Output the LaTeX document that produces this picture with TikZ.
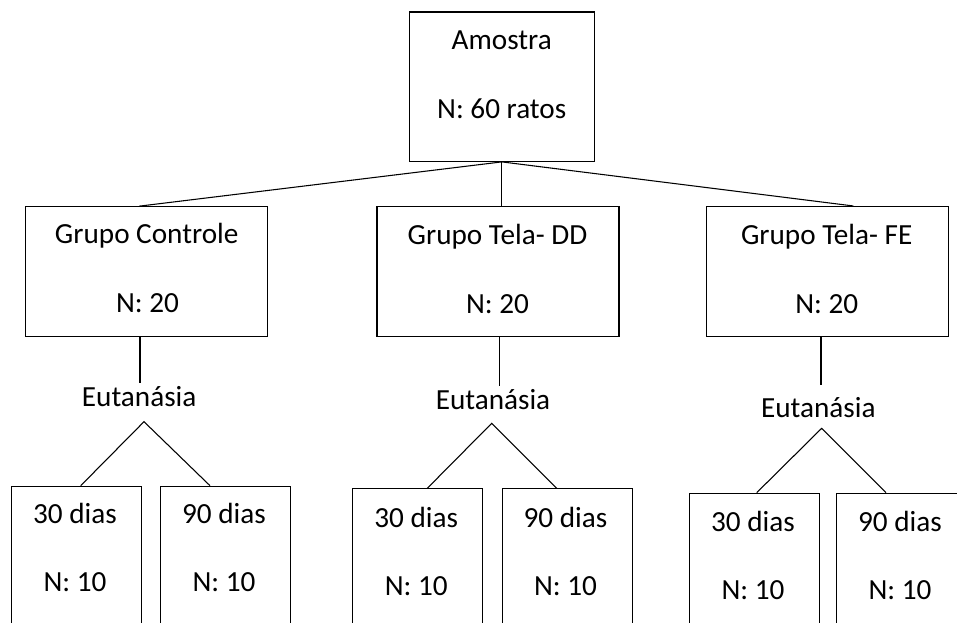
\documentclass[tikz,border=0pt]{standalone}
\usepackage{fontspec}
\setmainfont{Carlito}
\begin{document}
\begin{tikzpicture}[x=0.75pt,y=-0.75pt,
  box/.style={draw,line width=0.8pt,minimum width=#1,minimum height=130*0.75pt,inner sep=0pt},
  box/.default=181.5pt,
  leaf/.style={draw,line width=0.8pt,minimum width=97.5pt,minimum height=102.75pt,inner sep=0pt},
  txt/.style={anchor=base,inner sep=0pt,font=\fontsize{21.9}{26}\selectfont},
  conn/.style={line width=0.8pt}]
\useasboundingbox (0,0) rectangle (957,623);
\clip (0,0) rectangle (957,623);
% top
\node[draw,line width=0.8pt,minimum width=138.75pt,minimum height=112pt,inner sep=0pt] (am) at (501.8,86.7) {};
\node[txt] (amt1) at (501.7,50) {Amostra};
\node[txt] (amt2) at (501.7,118.3) {N: 60 ratos};
% groups
\node[box] (gc) at (146.3,271.7) {};
\node[box] (gd) at (498,271.7) {};
\node[box] (gf) at (827.2,271.5) {};
\node[txt] (gct1) at (146.7,244) {Grupo Controle};
\node[txt] (gct2) at (147.5,312.3) {N: 20};
\node[txt] (gdt1) at (497.5,245) {Grupo Tela- DD};
\node[txt] (gdt2) at (497.5,313.3) {N: 20};
\node[txt] (gft1) at (826.7,245) {Grupo Tela- FE};
\node[txt] (gft2) at (826.7,313.3) {N: 20};
% eutanasia
\node[txt] (e1) at (139.2,406.7) {Eutanásia};
\node[txt] (e2) at (493,410) {Eutanásia};
\node[txt] (e3) at (818.3,417.3) {Eutanásia};
\coordinate (a1) at (144,421.7);
\coordinate (a2) at (491.7,423.3);
\coordinate (a3) at (821.7,428.3);
\coordinate (v1) at (140,383);
\coordinate (v2) at (499.3,386);
\coordinate (v3) at (821,385);
% leaves
\node[leaf,anchor=north west] (b11) at (10.7,485.7) {};
\node[leaf,anchor=north west] (b12) at (160,485.7) {};
\node[leaf,anchor=north west] (b21) at (352,488.3) {};
\node[leaf,anchor=north west] (b22) at (501.7,488.3) {};
\node[leaf,anchor=north west] (b31) at (689,492.7) {};
\node[leaf,anchor=north west] (b32) at (835.7,492.7) {};
\node[txt] (b11a) at (75,523.3) {30 dias};
\node[txt] (b11b) at (75,591.7) {N: 10};
\node[txt] (b12a) at (224,523.3) {90 dias};
\node[txt] (b12b) at (224,591.7) {N: 10};
\node[txt] (b21a) at (416.2,527.3) {30 dias};
\node[txt] (b21b) at (416.2,595) {N: 10};
\node[txt] (b22a) at (565.5,527.3) {90 dias};
\node[txt] (b22b) at (565.5,595) {N: 10};
\node[txt] (b31a) at (753,531.7) {30 dias};
\node[txt] (b31b) at (753,599.3) {N: 10};
\node[txt] (b32a) at (900,531.7) {90 dias};
\node[txt] (b32b) at (900,599.3) {N: 10};
% connectors
\draw[conn] (gc.north -| e1) -- (am.south) -- (gf.north -| 853.3,0);
\draw[conn] (am.south) -- (gd.north -| am.south);
\draw[conn] (gc.south -| v1) -- (v1);
\draw[conn] (gd.south -| v2) -- (v2);
\draw[conn] (gf.south -| v3) -- (v3);
\draw[conn] (b11.north -| 80.7,0) -- (a1) -- (b12.north -| 210,0);
\draw[conn] (b21.north -| 427.3,0) -- (a2) -- (b22.north -| 556.7,0);
\draw[conn] (b31.north -| 756.7,0) -- (a3) -- (b32.north -| 886,0);
\end{tikzpicture}
\end{document}
